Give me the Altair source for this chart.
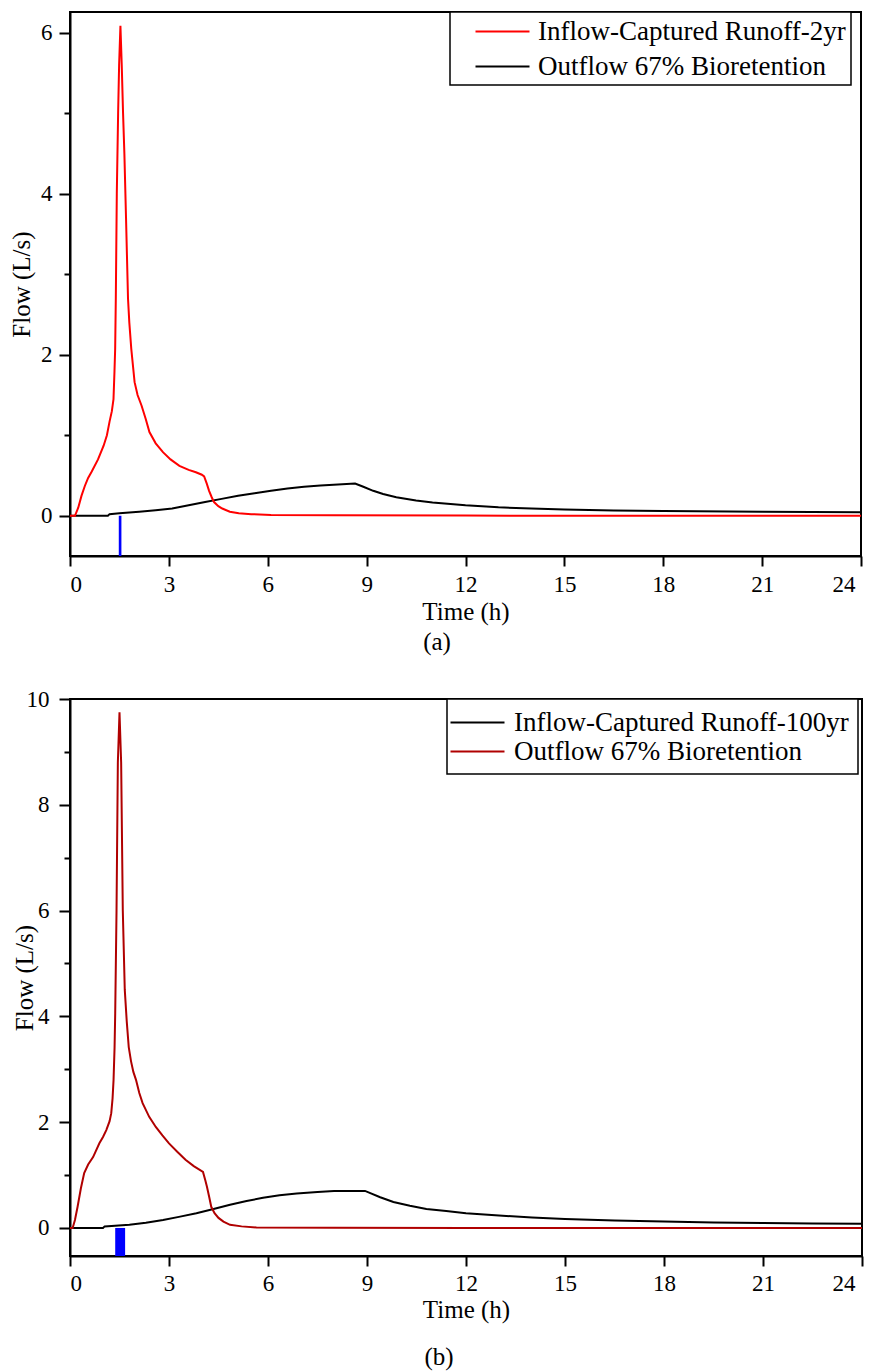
import altair as alt
import pandas as pd

FONT = "Liberation Serif"

# ---------------- data: panel (a) 2-yr storm ----------------
a_red_t = [0, 0.15, 0.25, 0.35, 0.45, 0.55, 0.66, 0.85, 1.02, 1.12, 1.2, 1.27, 1.32, 1.35,
           1.37, 1.39, 1.42, 1.46, 1.49, 1.53, 1.57, 1.61, 1.65, 1.70, 1.76, 1.80, 1.86,
           1.96, 2.05, 2.17, 2.3, 2.41, 2.6, 2.82, 3.05, 3.32, 3.6, 3.82, 4.0, 4.07, 4.15,
           4.22, 4.3, 4.37, 4.5, 4.62, 4.85, 5.12, 5.5, 6.1, 8.0, 12.0, 16.0, 20.0, 24.0]
a_red_v = [0, 0, 0.1, 0.25, 0.37, 0.47, 0.55, 0.7, 0.87, 1.0, 1.17, 1.3, 1.45, 1.8,
           2.07, 2.7, 4.0, 5.0, 5.6, 6.09, 5.6, 5.0, 4.5, 3.7, 2.7, 2.4, 2.07,
           1.66, 1.5, 1.37, 1.2, 1.04, 0.9, 0.79, 0.7, 0.62, 0.57, 0.54, 0.51, 0.49, 0.40,
           0.31, 0.23, 0.17, 0.12, 0.09, 0.05, 0.03, 0.02, 0.01, 0.005, 0.002, 0.001, 0.0, 0.0]
a_blk_t = [0, 1.15, 1.2, 1.5, 2.1, 2.6, 3.1, 3.6, 4.1, 4.6, 5.1, 5.6, 6.1, 6.6, 7.1, 7.6,
           8.0, 8.65, 8.9, 9.2, 9.5, 9.9, 10.5, 11.0, 12.0, 13.0, 14.0, 15.0, 16.5, 18.0,
           21.0, 24.0]
a_blk_v = [0, 0, 0.02, 0.03, 0.05, 0.07, 0.09, 0.13, 0.17, 0.21, 0.25, 0.28, 0.31, 0.34,
           0.36, 0.375, 0.385, 0.40, 0.36, 0.31, 0.27, 0.23, 0.19, 0.165, 0.13, 0.105, 0.09,
           0.078, 0.066, 0.058, 0.05, 0.045]
a_rain = [1.48, 1.56]
a_names = ["Inflow-Captured Runoff-2yr", "Outflow 67% Bioretention"]
a_colors = ["#ff0000", "#000000"]

# ---------------- data: panel (b) 100-yr storm ----------------
b_red_t = [0, 0.08, 0.15, 0.23, 0.33, 0.43, 0.55, 0.7, 0.89, 1.0, 1.1, 1.2, 1.25, 1.29,
           1.32, 1.35, 1.37, 1.41, 1.45, 1.50, 1.55, 1.60, 1.66, 1.72, 1.78, 1.85, 1.92,
           2.0, 2.1, 2.2, 2.4, 2.6, 2.8, 3.0, 3.25, 3.5, 3.75, 4.03, 4.1, 4.15, 4.22, 4.28,
           4.38, 4.5, 4.65, 4.85, 5.2, 5.65, 8.0, 12.0, 24.0]
b_red_v = [0, 0, 0.15, 0.4, 0.75, 1.04, 1.2, 1.34, 1.6, 1.72, 1.85, 2.02, 2.17, 2.45,
           2.8, 3.4, 4.06, 6.0, 8.8, 9.75, 8.8, 6.0, 4.5, 3.9, 3.42, 3.15, 2.95,
           2.8, 2.55, 2.36, 2.1, 1.91, 1.75, 1.6, 1.44, 1.29, 1.17, 1.06, 0.9, 0.78, 0.58, 0.4,
           0.28, 0.19, 0.12, 0.06, 0.03, 0.01, 0.003, 0.001, 0.0]
b_blk_t = [0, 1.0, 1.05, 1.8, 2.3, 2.82, 3.3, 3.83, 4.35, 4.85, 5.35, 5.85, 6.35, 6.87,
           7.5, 8.0, 8.94, 9.1, 9.4, 9.8, 10.3, 10.8, 11.4, 12.0, 13.0, 14.0, 15.0, 16.5,
           18.0, 19.5, 21.0, 22.5, 24.0]
b_blk_v = [0, 0, 0.03, 0.06, 0.1, 0.15, 0.21, 0.28, 0.36, 0.44, 0.51, 0.57, 0.62, 0.65,
           0.68, 0.70, 0.70, 0.66, 0.58, 0.49, 0.42, 0.36, 0.32, 0.28, 0.235, 0.2, 0.17,
           0.14, 0.12, 0.105, 0.095, 0.085, 0.08]
b_rain = [1.37, 1.67]
b_names = ["Inflow-Captured Runoff-100yr", "Outflow 67% Bioretention"]
b_colors = ["#000000", "#b00000"]

time_ticks = [0, 3, 6, 9, 12, 15, 18, 21, 24]
a_yticks = [0, 1, 2, 3, 4, 5, 6]
b_yticks = [0, 1, 2, 3, 4, 5, 6, 7, 8, 9, 10]


def frame(series):
    rows = []
    for name, ts, vs in series:
        for t, v in zip(ts, vs):
            rows.append({"t": t, "q": v, "s": name})
    return pd.DataFrame(rows)


def panel(df, names, colors, ydom, yticks, rain, w, h, lg, caption, ax):
    xaxis = alt.Axis(values=time_ticks, title="Time (h)", grid=False, tickSize=10,
                     labelPadding=ax["xlp"], titleY=ax["xty"], format="d",
                     labelOffset={"condition": {"test": "datum.value === 24",
                                                "value": ax["off24"]}, "value": 0})
    yaxis = alt.Axis(values=yticks, title="Flow (L/s)", grid=False, format="d",
                     labelExpr="datum.value % 2 === 0 ? datum.label : ''",
                     tickSize={"condition": {"test": "datum.value % 2 !== 0", "value": 6},
                               "value": 11},
                     labelPadding=ax["ylp"], titleX=ax["ytx"])
    lines = alt.Chart(df).mark_line(strokeWidth=2).encode(
        x=alt.X("t:Q", scale=alt.Scale(domain=[0, 24], nice=False, zero=False), axis=xaxis),
        y=alt.Y("q:Q", scale=alt.Scale(domain=ydom, nice=False, zero=False), axis=yaxis),
        color=alt.Color("s:N", scale=alt.Scale(domain=names, range=colors),
                        legend=alt.Legend(orient="none", legendX=lg["x"], legendY=0,
                                          title=None, symbolType="M-2,0L2,0",
                                          symbolStrokeWidth=2, symbolSize=729,
                                          labelFontSize=27, labelFont=FONT,
                                          labelColor="black", labelLimit=0,
                                          padding=lg["pad"], symbolOffset=lg["so"],
                                          labelOffset=lg["lo"], rowPadding=lg["rp"],
                                          strokeColor="black", fillColor="white")),
        order=alt.Order("t:Q"),
    )
    rdf = pd.DataFrame({"x0": [rain[0]], "x1": [rain[1]], "y0": [0.0], "y1": [ydom[0]]})
    bar = alt.Chart(rdf).mark_rect(color="#0000ff").encode(
        x="x0:Q", x2="x1:Q", y="y0:Q", y2="y1:Q")
    return alt.layer(lines, bar).properties(
        width=w, height=h,
        title=alt.TitleParams(caption, orient="bottom", font=FONT, fontSize=25,
                              fontWeight="normal", color="black", offset=ax["cap"],
                              anchor="middle", frame="bounds"))


dfa = frame([(a_names[1], a_blk_t, a_blk_v), (a_names[0], a_red_t, a_red_v)])
dfb = frame([(b_names[0], b_blk_t, b_blk_v), (b_names[1], b_red_t, b_red_v)])

pa = panel(dfa, a_names, a_colors, [-0.5, 6.26], a_yticks, a_rain, 791, 544,
           {"x": 380, "pad": 5, "so": 33, "lo": 21, "rp": 7}, "(a)",
           {"xlp": 7, "xty": 43, "off24": -6, "ylp": 7, "ytx": -36, "cap": 6})
pb = panel(dfb, b_names, b_colors, [-0.53, 10], b_yticks, b_rain, 792, 557,
           {"x": 377, "pad": 9, "so": 7, "lo": 22, "rp": 1}, "(b)",
           {"xlp": 6, "xty": 41, "off24": -7, "ylp": 10, "ytx": -33, "cap": 23})

chart = alt.vconcat(pa, pb, spacing=31).resolve_scale(
    color="independent"
).properties(
    padding={"left": 0, "top": 2, "right": 0, "bottom": 5}
).configure_view(stroke="black", strokeWidth=2).configure_axis(
    labelFont=FONT, titleFont=FONT, labelFontSize=23, titleFontSize=25,
    labelColor="black", titleColor="black", titleFontWeight="normal",
    domainColor="black", domainWidth=2, tickColor="black", tickWidth=2,
).configure_legend(strokeWidth=1.5)

chart.save("out.html", embed_options={"renderer": "svg", "actions": False})
